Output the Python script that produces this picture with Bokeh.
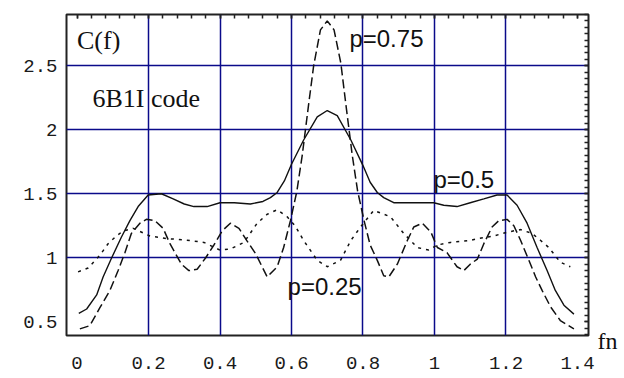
from bokeh.plotting import figure
from bokeh.models import (Range1d, LinearAxis, FixedTicker, SingleIntervalTicker, Label,
                          CustomJSTickFormatter)
from bokeh.embed import file_html
from bokeh.resources import INLINE

# ---- data ----
# p = 0.5 (solid)
x_p50 = [0.005, 0.027, 0.055, 0.073, 0.097, 0.124, 0.148, 0.171, 0.199, 0.236, 0.269, 0.300,
         0.327, 0.364, 0.400, 0.440, 0.485, 0.520, 0.541, 0.560, 0.580, 0.600, 0.634, 0.672,
         0.700, 0.728, 0.766, 0.800, 0.820, 0.840, 0.858, 0.886, 0.924, 0.960, 0.998, 1.026,
         1.063, 1.100, 1.138, 1.175, 1.203, 1.231, 1.259, 1.287, 1.315, 1.338, 1.362, 1.390]
y_p50 = [0.565, 0.60, 0.71, 0.85, 1.00, 1.16, 1.29, 1.40, 1.49, 1.50, 1.46, 1.42,
         1.40, 1.40, 1.43, 1.43, 1.42, 1.44, 1.47, 1.51, 1.60, 1.73, 1.92, 2.10,
         2.15, 2.11, 1.92, 1.72, 1.59, 1.51, 1.47, 1.43, 1.43, 1.43, 1.43, 1.41,
         1.40, 1.43, 1.46, 1.49, 1.49, 1.41, 1.27, 1.08, 0.90, 0.745, 0.63, 0.56]

# p = 0.75 (long dashes)
x_p75 = [0.008, 0.036, 0.064, 0.092, 0.115, 0.134, 0.152, 0.176, 0.194, 0.218, 0.241, 0.260,
         0.292, 0.313, 0.336, 0.360, 0.383, 0.406, 0.429, 0.453, 0.476, 0.500, 0.532, 0.560,
         0.578, 0.597, 0.615, 0.630, 0.648, 0.662, 0.681, 0.700, 0.719, 0.738, 0.752, 0.770,
         0.785, 0.803, 0.820, 0.840, 0.858, 0.872, 0.896, 0.924, 0.942, 0.966, 0.990, 1.008,
         1.035, 1.063, 1.082, 1.100, 1.120, 1.138, 1.161, 1.180, 1.203, 1.222, 1.241, 1.264,
         1.283, 1.301, 1.325, 1.352, 1.390]
y_p75 = [0.445, 0.47, 0.61, 0.745, 0.90, 1.04, 1.19, 1.27, 1.30, 1.29, 1.23, 1.11,
         0.95, 0.90, 0.91, 1.00, 1.10, 1.21, 1.27, 1.23, 1.13, 1.03, 0.85, 0.93,
         1.08, 1.29, 1.52, 1.80, 2.20, 2.50, 2.78, 2.85, 2.78, 2.52, 2.20, 1.80,
         1.52, 1.29, 1.10, 0.98, 0.86, 0.85, 0.95, 1.135, 1.24, 1.27, 1.20, 1.08,
         1.04, 0.93, 0.90, 0.95, 0.99, 1.11, 1.24, 1.29, 1.30, 1.25, 1.135, 0.98,
         0.85, 0.745, 0.615, 0.51, 0.445]

# p = 0.25 (short dashes)
x_p25 = [0.003, 0.031, 0.064, 0.087, 0.110, 0.129, 0.157, 0.204, 0.250, 0.300, 0.355, 0.400,
         0.430, 0.467, 0.504, 0.532, 0.560, 0.588, 0.610, 0.634, 0.672, 0.700, 0.737, 0.766,
         0.793, 0.830, 0.877, 0.914, 0.952, 0.984, 1.008, 1.045, 1.100, 1.120, 1.166, 1.203,
         1.241, 1.273, 1.297, 1.320, 1.352, 1.380]
y_p25 = [0.89, 0.92, 1.02, 1.11, 1.17, 1.21, 1.23, 1.17, 1.15, 1.14, 1.12, 1.06,
         1.07, 1.12, 1.27, 1.34, 1.375, 1.32, 1.25, 1.135, 0.98, 0.93, 0.98, 1.135,
         1.24, 1.37, 1.32, 1.19, 1.08, 1.06, 1.10, 1.12, 1.135, 1.15, 1.17, 1.20,
         1.22, 1.19, 1.135, 1.08, 0.965, 0.93]

x_ticks = [0, 0.2, 0.4, 0.6, 0.8, 1, 1.2, 1.4]
x_tick_labels = ["0", "0.2", "0.4", "0.6", "0.8", "1", "1.2", "1.4"]
y_ticks = [0.5, 1, 1.5, 2, 2.5]
y_tick_labels = ["0.5", "1", "1.5", "2", "2.5"]
x_grid = [0.2, 0.4, 0.6, 0.8, 1, 1.2]
y_grid = [1, 1.5, 2, 2.5]

# ---- figure ----
p = figure(width=624, height=378, output_backend="svg", toolbar_location=None,
           x_range=Range1d(-0.0294, 1.4308), y_range=Range1d(0.393, 2.90),
           min_border_left=66, min_border_right=36, min_border_top=14, min_border_bottom=43,
           background_fill_color="white", border_fill_color="white")
p.outline_line_color = "#222222"
p.outline_line_width = 2

GRID = "#0a0a8a"
p.xgrid.ticker = FixedTicker(ticks=x_grid)
p.ygrid.ticker = FixedTicker(ticks=y_grid)
p.xgrid.grid_line_color = GRID
p.ygrid.grid_line_color = GRID
p.xgrid.grid_line_width = 1.5
p.ygrid.grid_line_width = 1.5

LABEL_FONT = "Liberation Mono"
for ax in (p.xaxis[0], p.yaxis[0]):
    ax.axis_line_color = None
    ax.major_tick_in = 0
    ax.major_tick_out = 0
    ax.minor_tick_in = 0
    ax.minor_tick_out = 0
    ax.major_label_text_font = LABEL_FONT
    ax.major_label_text_font_size = "19px"
    ax.major_label_text_color = "#1a1a1a"

p.xaxis[0].ticker = FixedTicker(ticks=x_ticks)
p.xaxis[0].major_label_overrides = {t: l for t, l in zip(x_ticks, x_tick_labels)}
p.xaxis[0].major_label_standoff = 21
p.yaxis[0].ticker = FixedTicker(ticks=y_ticks)
p.yaxis[0].major_label_overrides = {t: l for t, l in zip(y_ticks, y_tick_labels)}
p.yaxis[0].major_label_standoff = 9

# inward minor ticks on top and right edges (no labels)
top = LinearAxis(ticker=SingleIntervalTicker(interval=0.2, num_minor_ticks=5))
right = LinearAxis(ticker=SingleIntervalTicker(interval=0.5, num_minor_ticks=10))
for ax in (top, right):
    ax.axis_line_color = None
    ax.major_tick_in = 4
    ax.major_tick_out = 0
    ax.minor_tick_in = 4
    ax.minor_tick_out = 0
    ax.major_tick_line_color = "#222222"
    ax.minor_tick_line_color = "#222222"
    ax.major_tick_line_width = 1.5
    ax.minor_tick_line_width = 1.5
    ax.formatter = CustomJSTickFormatter(code="return ''")
    ax.major_label_standoff = 0
p.add_layout(top, "above")
p.add_layout(right, "right")

# ---- curves ----
p.line(x_p25, y_p25, line_color="#111111", line_width=1.5, line_dash="3 5")
p.line(x_p75, y_p75, line_color="#111111", line_width=1.5, line_dash="9 4")
p.line(x_p50, y_p50, line_color="#111111", line_width=1.4)

# ---- texts ----
SERIF = "Liberation Serif"
SANS = "Liberation Sans"
texts = [
    ("C(f)", 0.0, 2.70, SERIF, "26px"),
    ("6B1I code", 0.043, 2.245, SERIF, "26px"),
    ("p=0.75", 0.762, 2.713, SANS, "24px"),
    ("p=0.5", 0.997, 1.611, SANS, "24px"),
    ("p=0.25", 0.589, 0.775, SANS, "24px"),
]
for t, x, y, f, s in texts:
    p.add_layout(Label(x=x, y=y, text=t, text_font=f, text_font_size=s,
                       text_color="#111111", text_align="left",
                       text_baseline="alphabetic"))

# axis name at the lower right, outside the frame
p.add_layout(Label(x=597, y=340, x_units="canvas", y_units="canvas", text="fn",
                   text_font=SERIF, text_font_size="24px", text_color="#111111",
                   text_align="left", text_baseline="alphabetic"), "right")

open("out.html", "w").write(file_html(p, INLINE))
